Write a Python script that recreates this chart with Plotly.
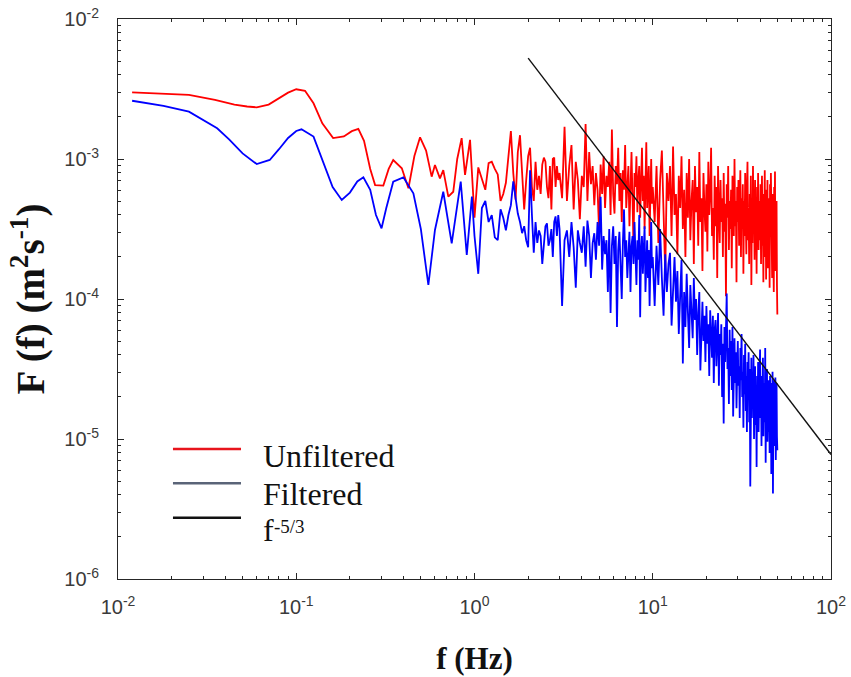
import plotly.graph_objects as go

# ---------------- data (log10 of spectral density) -------------
# smooth low-frequency part of the unfiltered spectrum
unf_low_f = [0.012, 0.018, 0.025, 0.035, 0.045, 0.053, 0.060, 0.070, 0.080, 0.090,
             0.100, 0.112, 0.125, 0.140, 0.161, 0.185, 0.205, 0.223, 0.240, 0.260,
             0.277, 0.308, 0.330, 0.350, 0.391, 0.426, 0.460, 0.495, 0.535, 0.575,
             0.600, 0.640, 0.668, 0.713, 0.760, 0.800, 0.847, 0.885, 0.944]
unf_low_log = [-2.524, -2.533, -2.542, -2.577, -2.611, -2.625, -2.631, -2.611, -2.569, -2.526,
               -2.502, -2.513, -2.602, -2.745, -2.851, -2.839, -2.801, -2.785, -2.870, -3.071,
               -3.186, -3.190, -3.071, -3.007, -3.066, -3.209, -2.979, -2.845, -2.940, -3.126,
               -3.043, -3.138, -3.079, -3.269, -3.234, -3.000, -2.851, -3.114, -2.863]

# smooth low-frequency part of the filtered spectrum
fil_low_f = [0.012, 0.018, 0.025, 0.030, 0.036, 0.042, 0.050, 0.060, 0.071, 0.080,
             0.090, 0.100, 0.107, 0.125, 0.140, 0.160, 0.180, 0.200, 0.220, 0.238,
             0.260, 0.280, 0.301, 0.320, 0.350, 0.399, 0.454, 0.500, 0.551, 0.600,
             0.668, 0.745, 0.837, 0.905, 0.967]
fil_low_log = [-2.584, -2.620, -2.662, -2.720, -2.781, -2.860, -2.960, -3.036, -3.007, -2.930,
               -2.850, -2.800, -2.788, -2.840, -3.000, -3.200, -3.293, -3.240, -3.160, -3.131,
               -3.220, -3.400, -3.495, -3.350, -3.162, -3.131, -3.245, -3.500, -3.900, -3.507,
               -3.234, -3.602, -3.162, -3.686, -3.269]

# higher-frequency grid (Hz)
freq_a = [1.0, 1.05, 1.1, 1.15, 1.2, 1.25, 1.3, 1.35, 1.4, 1.45,
          1.5, 1.55, 1.6, 1.65, 1.7, 1.75, 1.8, 1.85, 1.9, 1.95,
          2.0, 2.05, 2.1, 2.15, 2.2, 2.25, 2.3, 2.35, 2.4, 2.45,
          2.5, 2.55, 2.6, 2.65, 2.7, 2.75, 2.8, 2.85, 2.9, 2.95]
freq_b = [3.0, 3.1, 3.2, 3.3, 3.4, 3.5, 3.6, 3.7, 3.8, 3.9,
          4.0, 4.1, 4.2, 4.3, 4.4, 4.5, 4.6, 4.7, 4.8, 4.9,
          5.0, 5.1, 5.2, 5.3, 5.4, 5.5, 5.6, 5.7, 5.8, 5.9,
          6.0, 6.1, 6.2, 6.3, 6.4, 6.5, 6.6, 6.7, 6.8, 6.9,
          7.0, 7.1, 7.2, 7.3, 7.4, 7.5, 7.6, 7.7, 7.8, 7.9,
          8.0, 8.1, 8.2, 8.3, 8.4, 8.5, 8.6, 8.7, 8.8, 8.9,
          9.0, 9.1, 9.2, 9.3, 9.4, 9.5, 9.6, 9.7, 9.8, 9.9]
freq_c = [10.0, 10.25, 10.5, 10.75, 11.0, 11.25, 11.5, 11.75, 12.0, 12.25,
          12.5, 12.75, 13.0, 13.25, 13.5, 13.75, 14.0, 14.25, 14.5, 14.75,
          15.0, 15.25, 15.5, 15.75, 16.0, 16.25, 16.5, 16.75, 17.0, 17.25,
          17.5, 17.75, 18.0, 18.25, 18.5, 18.75, 19.0, 19.25, 19.5, 19.75,
          20.0, 20.25, 20.5, 20.75, 21.0, 21.25, 21.5, 21.75, 22.0, 22.25,
          22.5, 22.75, 23.0, 23.25, 23.5, 23.75, 24.0, 24.25, 24.5, 24.75,
          25.0, 25.25, 25.5, 25.75, 26.0, 26.25, 26.5, 26.75, 27.0, 27.25,
          27.5, 27.75, 28.0, 28.25, 28.5, 28.75, 29.0, 29.25, 29.5, 29.75,
          30.0, 30.25, 30.5, 30.75, 31.0, 31.25, 31.5, 31.75, 32.0, 32.25,
          32.5, 32.75, 33.0, 33.25, 33.5, 33.75, 34.0, 34.25, 34.5, 34.75,
          35.0, 35.25, 35.5, 35.75, 36.0, 36.25, 36.5, 36.75, 37.0, 37.25,
          37.5, 37.75, 38.0, 38.25, 38.5, 38.75, 39.0, 39.25, 39.5, 39.75,
          40.0, 40.25, 40.5, 40.75, 41.0, 41.25, 41.5, 41.75, 42.0, 42.25,
          42.5, 42.75, 43.0, 43.25, 43.5, 43.75, 44.0, 44.25, 44.5, 44.75,
          45.0, 45.25, 45.5, 45.75, 46.0, 46.25, 46.5, 46.75, 47.0, 47.25,
          47.5, 47.75, 48.0, 48.25, 48.5, 48.75, 49.0, 49.25, 49.5, 49.75,
          50.0]

unf_a = [-3.42, -3.06, -3.15, -3.22, -3.03, -3.02, -3.07, -3.11, -3.30, -3.25,
         -3.17, -3.00, -2.80, -3.10, -3.29, -2.95, -2.83, -3.10, -3.36, -3.15,
         -2.98, -2.92, -3.20, -3.30, -3.02, -3.22, -3.12, -3.25, -3.04, -2.99,
         -3.02, -3.20, -3.28, -3.05, -3.36, -3.00, -2.99, -3.20, -3.05, -3.15]
unf_b = [-3.10, -3.28, -2.77, -3.30, -3.05, -2.90, -3.36, -3.02, -3.15, -3.43,
         -3.12, -3.20, -2.75, -3.30, -2.95, -3.18, -3.05, -3.33, -3.10, -3.22,
         -3.51, -3.04, -3.25, -2.98, -3.35, -3.12, -3.20, -3.02, -3.40, -2.79,
         -3.25, -3.39, -3.05, -3.18, -2.92, -3.30, -3.10, -3.45, -3.08, -3.22,
         -2.90, -3.35, -3.15, -3.05, -3.48, -3.12, -2.95, -3.28, -3.65, -3.10,
         -3.20, -2.98, -3.38, -3.15, -3.05, -3.42, -3.18, -2.92, -3.30, -3.12,
         -3.50, -3.08, -2.88, -3.35, -3.20, -3.05, -3.55, -3.15, -3.00, -3.32]
unf_c = [-3.20, -3.45, -3.05, -3.60, -3.15, -2.94, -3.50, -3.82, -3.10, -3.30,
         -3.05, -3.55, -2.91, -3.40, -3.25, -3.68, -3.12, -3.35, -2.98, -3.50,
         -3.22, -3.70, -3.10, -3.42, -3.00, -3.58, -3.30, -3.15, -3.75, -3.05,
         -3.38, -3.20, -3.62, -2.95, -3.45, -3.28, -3.80, -3.10, -3.35, -3.52,
         -3.18, -3.66, -3.02, -3.40, -3.25, -2.92, -3.55, -3.35, -3.72, -3.12,
         -3.48, -3.20, -3.85, -3.05, -3.38, -3.60, -3.15, -3.45, -3.28, -3.70,
         -3.10, -3.52, -3.32, -3.98, -3.18, -3.42, -3.05, -3.65, -3.30, -3.50,
         -3.22, -3.78, -3.12, -3.40, -3.55, -3.00, -3.48, -3.30, -3.88, -3.20,
         -3.45, -3.15, -3.62, -3.35, -3.08, -3.70, -3.28, -3.50, -3.18, -3.82,
         -3.30, -3.55, -3.10, -3.42, -3.68, -3.22, -3.02, -3.58, -3.38, -3.75,
         -3.25, -3.48, -3.12, -3.90, -3.35, -3.60, -3.05, -3.45, -3.28, -3.72,
         -3.15, -3.55, -3.38, -3.82, -3.20, -3.50, -3.10, -3.65, -3.40, -3.30,
         -3.58, -3.18, -3.75, -3.32, -3.12, -3.62, -3.45, -3.88, -3.25, -3.50,
         -3.08, -3.70, -3.35, -3.86, -3.22, -3.55, -3.15, -3.78, -3.40, -3.60,
         -3.28, -3.92, -3.18, -3.52, -3.10, -3.68, -3.35, -3.85, -3.25, -3.58,
         -3.45, -3.95, -3.20, -3.62, -3.09, -3.80, -3.38, -3.70, -3.30, -3.90,
         -4.11]

fil_a = [-3.55, -3.82, -3.35, -3.30, -3.45, -3.40, -3.56, -3.58, -3.36, -3.42,
         -3.51, -3.40, -3.33, -3.16, -3.30, -3.39, -3.45, -3.53, -3.48, -3.58,
         -3.63, -3.08, -3.40, -3.67, -3.45, -3.60, -3.51, -3.55, -3.75, -3.60,
         -3.48, -3.46, -3.62, -3.58, -3.50, -3.70, -3.45, -3.41, -3.55, -3.40]
fil_b = [-3.50, -4.05, -3.58, -3.51, -3.70, -3.45, -3.63, -3.92, -3.51, -3.60,
         -3.67, -3.48, -3.77, -3.44, -3.55, -3.85, -3.60, -3.53, -3.72, -3.45,
         -3.62, -3.27, -3.79, -3.55, -3.68, -3.58, -3.95, -3.50, -4.10, -3.62,
         -3.48, -3.75, -3.55, -4.20, -3.65, -3.52, -3.80, -4.00, -3.60, -3.36,
         -3.70, -3.58, -3.85, -3.65, -3.52, -3.95, -3.62, -3.55, -3.75, -3.45,
         -3.68, -3.90, -3.58, -3.72, -3.40, -4.13, -3.65, -3.55, -3.82, -3.62,
         -3.48, -3.95, -3.70, -3.58, -3.85, -3.65, -4.05, -3.60, -3.45, -3.78]
fil_c = [-3.70, -4.05, -3.62, -3.90, -3.50, -3.85, -4.12, -3.68, -3.95, -3.75,
         -3.67, -4.19, -3.88, -3.70, -4.02, -3.80, -4.25, -3.92, -3.72, -4.46,
         -3.95, -4.20, -3.82, -4.10, -4.35, -3.90, -4.05, -4.28, -3.85, -4.15,
         -4.00, -4.40, -4.10, -3.95, -4.51, -4.18, -4.02, -4.30, -4.12, -4.45,
         -4.05, -4.32, -4.18, -4.55, -4.08, -4.25, -4.42, -4.12, -4.60, -4.22,
         -4.15, -4.48, -4.30, -4.10, -4.62, -4.25, -4.40, -4.18, -4.70, -4.32,
         -4.89, -4.20, -4.45, -4.28, -3.96, -4.50, -4.35, -4.75, -4.22, -4.55,
         -4.30, -4.65, -4.20, -4.84, -4.42, -4.28, -4.60, -4.38, -4.78, -4.45,
         -4.30, -4.62, -4.48, -4.85, -4.35, -4.58, -4.25, -4.70, -4.52, -4.92,
         -4.40, -4.68, -4.32, -4.80, -4.55, -4.95, -4.45, -4.62, -4.38, -4.88,
         -4.50, -5.34, -4.60, -4.42, -4.85, -4.55, -4.72, -4.40, -5.00, -4.62,
         -4.48, -4.90, -4.65, -5.20, -4.55, -4.80, -4.45, -4.95, -4.68, -4.52,
         -4.36, -4.85, -4.62, -5.05, -4.55, -4.78, -4.42, -4.98, -4.70, -4.60,
         -4.88, -4.35, -5.17, -4.65, -4.82, -4.50, -5.02, -4.72, -4.58, -4.95,
         -4.62, -5.10, -4.55, -4.85, -4.70, -5.25, -4.60, -4.92, -4.52, -5.39,
         -4.75, -4.58, -5.05, -4.68, -4.90, -4.56, -5.15, -4.72, -4.60, -4.98,
         -5.08]

# -5/3 reference line (end points)
ref_f = [2.0, 100.0]
ref_F = [5.26e-3, 7.75e-6]

x_tickvals = [1e-2, 1e-1, 1e0, 1e1, 1e2]
x_ticktext = ["10<sup>-2</sup>", "10<sup>-1</sup>", "10<sup>0</sup>", "10<sup>1</sup>", "10<sup>2</sup>"]
y_tickvals = [1e-6, 1e-5, 1e-4, 1e-3, 1e-2]
y_ticktext = ["10<sup>-6</sup>", "10<sup>-5</sup>", "10<sup>-4</sup>", "10<sup>-3</sup>", "10<sup>-2</sup>"]

legend_labels = ["Unfiltered", "Filtered", "f"]
legend_colors = ["#e8141c", "#5a6478", "#111111"]

# ---------------- build -------------
f_unf = unf_low_f + freq_a + freq_b + freq_c
F_unf = [10 ** v for v in unf_low_log + unf_a + unf_b + unf_c]
f_fil = fil_low_f + freq_a + freq_b + freq_c
F_fil = [10 ** v for v in fil_low_log + fil_a + fil_b + fil_c]

fig = go.Figure()
fig.add_trace(go.Scatter(x=f_unf, y=F_unf, mode="lines", name="Unfiltered",
                         line=dict(color="#ff0000", width=1.8), showlegend=False))
fig.add_trace(go.Scatter(x=f_fil, y=F_fil, mode="lines", name="Filtered",
                         line=dict(color="#0000ff", width=1.8), showlegend=False))
fig.add_trace(go.Scatter(x=ref_f, y=ref_F, mode="lines", name="f-5/3",
                         line=dict(color="#111111", width=1.4), showlegend=False))

axis_common = dict(
    showgrid=False, zeroline=False, showline=True, linecolor="#262626", linewidth=1,
    mirror="allticks", ticks="inside", ticklen=6, tickcolor="#262626", automargin=False,
    tickfont=dict(family="Liberation Sans, Arial", size=20, color="#3a3a3a"),
    minor=dict(ticks="inside", ticklen=3, tickcolor="#262626", dtick="D1", showgrid=False),
)

fig.update_xaxes(type="log", range=[-2, 2], tickvals=x_tickvals, ticktext=x_ticktext,
                 ticklabelstandoff=10,
                 title=dict(text="<b>f (Hz)</b>", standoff=30,
                            font=dict(family="Liberation Serif, Times New Roman", size=31, color="#111")),
                 **axis_common)
fig.update_yaxes(type="log", range=[-6, -2], tickvals=y_tickvals, ticktext=y_ticktext,
                 ticklabelstandoff=14,
                 title=dict(text="<b>F (f) (m<sup>2</sup>s<sup>-1</sup>)</b>", standoff=7,
                            font=dict(family="Liberation Serif, Times New Roman", size=39, color="#111")),
                 **axis_common)

# legend drawn inside the axes
leg_y = [0.2321, 0.1709, 0.1095]
txt_y = [0.2205, 0.1517, 0.0875]
for lab, col, ly, ty in zip(legend_labels, legend_colors, leg_y, txt_y):
    fig.add_shape(type="line", xref="paper", yref="paper", x0=0.0771, x1=0.1725, y0=ly, y1=ly,
                  line=dict(color=col, width=2.4))
    fig.add_annotation(xref="paper", yref="paper", x=0.200, y=ty, xanchor="left", yanchor="middle",
                       text=lab, showarrow=False,
                       font=dict(family="Liberation Serif, Times New Roman", size=32, color="#111"))
# exponent of the f^-5/3 legend entry
fig.add_annotation(xref="paper", yref="paper", x=0.2157, y=0.0935, xanchor="left", yanchor="middle",
                   text="-5/3", showarrow=False,
                   font=dict(family="Liberation Serif, Times New Roman", size=19, color="#111"))

fig.update_layout(width=851, height=677, margin=dict(l=118, r=20, t=19, b=98),
                  plot_bgcolor="white", paper_bgcolor="white")

fig.write_html("out.html")
